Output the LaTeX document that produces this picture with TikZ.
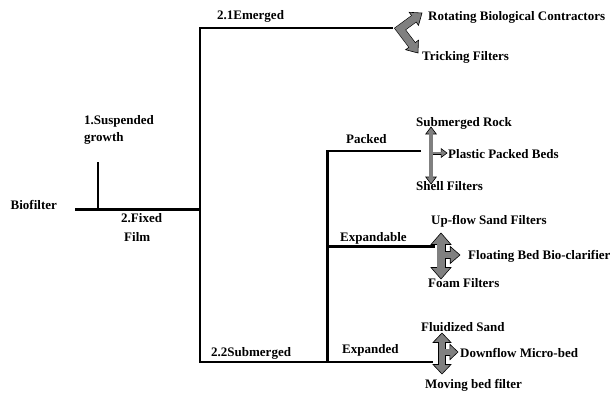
\documentclass[tikz,border=0pt]{standalone}
\usepackage{fontspec}
\setmainfont{Liberation Serif}
\definecolor{fillgray}{RGB}{128,128,128}
\tikzset{
  treeline/.style={line width=2.2pt, line join=miter, line cap=butt},
  headst/.style={fill=fillgray, draw=black, line width=0.6pt, line join=miter},
  lbl/.style={anchor=base west, inner sep=0pt, font=\fontsize{13}{15}\selectfont\bfseries},
}
% T-shaped block arrow: #1 x centre, #2 top tip y, #3 bottom tip y, #4 branch y, #5 branch tip x,
% #6 shaft width, #7 head length, #8 head width, #9 branch shaft width
\newcommand{\tarrow}[9]{%
  \pgfmathsetmacro\tA{#2+#7}%
  \pgfmathsetmacro\tAg{#2+#7-1.2}%
  \pgfmathsetmacro\tB{#3-#7}%
  \pgfmathsetmacro\tBg{#3-#7+1.2}%
  \pgfmathsetmacro\tL{0.85*#7}%
  \pgfmathsetmacro\tH{0.85*#8}%
  \pgfmathsetmacro\tR{#5-\tL}%
  \pgfmathsetmacro\tRg{#5-\tL+1.2}%
  \pgfmathsetmacro\tW{#6}%
  \pgfmathsetmacro\tWg{#6-1.2}%
  \pgfmathsetmacro\tV{#9}%
  \pgfmathsetmacro\tVg{#9-1.2}%
  \pgfmathsetmacro\tHh{#8/2}%
  \pgfmathsetmacro\tHb{\tH/2}%
  \draw[line width=\tW pt] (#1,\tA) -- (#1,\tB);
  \draw[line width=\tV pt] (#1,#4) -- (\tR,#4);
  \filldraw[headst] (#1,#2) -- (#1-\tHh,\tA) -- (#1+\tHh,\tA) -- cycle;
  \filldraw[headst] (#1,#3) -- (#1-\tHh,\tB) -- (#1+\tHh,\tB) -- cycle;
  \filldraw[headst] (#5,#4) -- (\tR,#4-\tHb) -- (\tR,#4+\tHb) -- cycle;
  \draw[line width=\tWg pt, fillgray] (#1,\tAg) -- (#1,\tBg);
  \draw[line width=\tVg pt, fillgray] (#1,#4) -- (\tRg,#4);
}
\begin{document}
\begin{tikzpicture}[x=1pt, y=-1pt]
\useasboundingbox (0,0) rectangle (611,394);
% tree coordinates
\coordinate (bfL) at (75,209.5);
\coordinate (bfR) at (200,209.5);
\coordinate (susB) at (98,209.5);
\coordinate (susT) at (98,162);
\coordinate (emR) at (393,28);
\coordinate (emL) at (200,28);
\coordinate (subL) at (200,362);
\coordinate (subR) at (433,362);
\coordinate (pkR) at (421,151);
\coordinate (pkL) at (327.5,151);
\coordinate (pkB) at (327.5,362);
\coordinate (exL) at (327.5,246.5);
\coordinate (exR) at (435,246.5);
% tree lines
\draw[treeline] (bfL) -- (bfR);
\draw[treeline] (susT) -- (susB);
\draw[treeline] (emR) -- (emL) -- (subL) -- (subR);
\draw[treeline] (pkR) -- (pkL) -- (pkB);
\draw[treeline] (exL) -- (exR);
% labels
\node[lbl] (biofilter) at (10.5,209) {Biofilter};
\node[lbl] (sus1) at (84,124) {1.Suspended};
\node[lbl] (sus2) at (84,141) {growth};
\node[lbl] (fix1) at (121,222) {2.Fixed};
\node[lbl] (fix2) at (124,241) {Film};
\node[lbl] (emerged) at (217,19) {2.1Emerged};
\node[lbl] (submerged) at (211,356) {2.2Submerged};
\node[lbl] (packed) at (346,143) {Packed};
\node[lbl] (expandable) at (340,241) {Expandable};
\node[lbl] (expanded) at (342,353) {Expanded};
\node[lbl] (rbc) at (428,20) {Rotating Biological Contractors};
\node[lbl] (tf) at (422,60) {Tricking Filters};
\node[lbl] (rock) at (416,126) {Submerged Rock};
\node[lbl] (ppb) at (448,158) {Plastic Packed Beds};
\node[lbl] (shell) at (416,190) {Shell Filters};
\node[lbl] (upflow) at (431,224) {Up-flow Sand Filters};
\node[lbl] (floating) at (468,259) {Floating Bed Bio-clarifier};
\node[lbl] (foam) at (428,287) {Foam Filters};
\node[lbl] (fluid) at (421,331) {Fluidized Sand};
\node[lbl] (downflow) at (460,357) {Downflow Micro-bed};
\node[lbl] (moving) at (425,388) {Moving bed filter};
% chevron block arrow (emerged)
\coordinate (cV) at (400,29);
\coordinate (cT1) at (422,13);
\coordinate (cB1) at (413.9,18.8);
\coordinate (cG1) at (415.1,17.9);
\coordinate (cT2) at (418,53);
\coordinate (cB2) at (412.1,45);
\coordinate (cG2) at (412.8,46);
\draw[line width=8.5pt, line join=miter] (cB1) -- (cV) -- (cB2);
\begin{scope}[shift={(cT1)}, rotate=35.5]
  \filldraw[headst] (0,0) -- (-10,8) -- (-10,-8) -- cycle;
\end{scope}
\begin{scope}[shift={(cT2)}, rotate=-53.5]
  \filldraw[headst] (0,0) -- (-10,8) -- (-10,-8) -- cycle;
\end{scope}
\draw[line width=7.3pt, line join=miter, fillgray] (cG1) -- (cV) -- (cG2);
% T arrows
\tarrow{431}{127}{184}{153}{447}{4.6}{7}{10.5}{3}
\tarrow{441}{233}{279}{255}{460}{9}{11.5}{20}{8}
\tarrow{442}{333}{374}{352}{458}{8}{9.5}{18}{7}
\end{tikzpicture}
\end{document}
